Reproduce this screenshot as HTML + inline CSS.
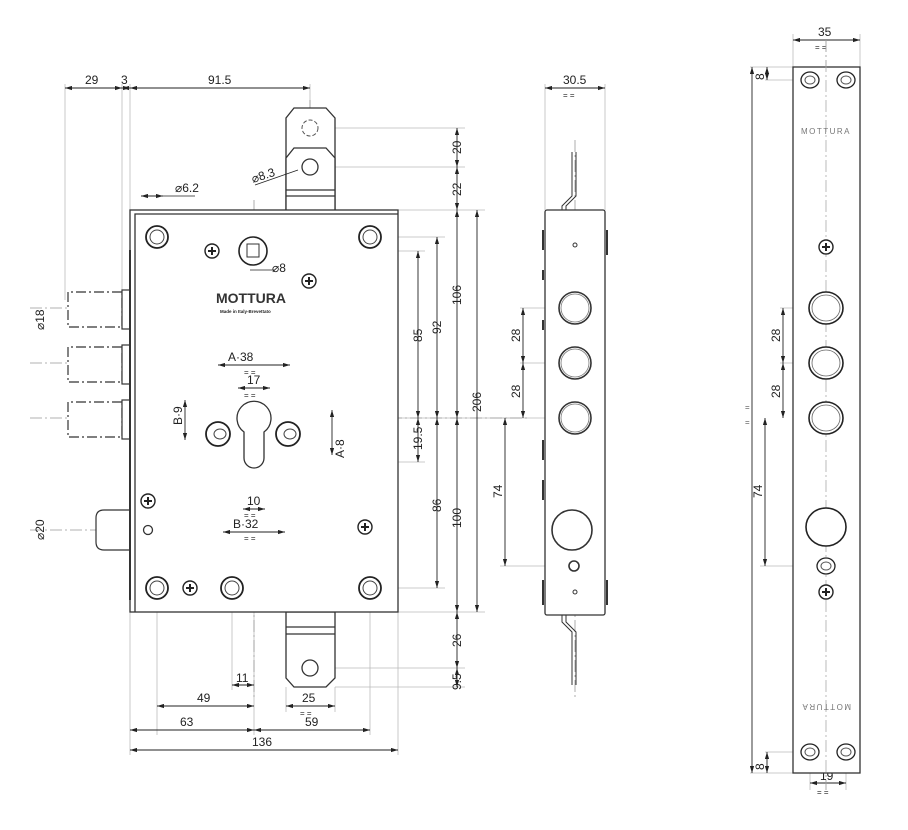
<!DOCTYPE html>
<html><head><meta charset="utf-8"><style>
html,body{margin:0;padding:0;background:#fff}
svg{display:block}
text{font-family:"Liberation Sans",sans-serif;fill:#222}
</style></head><body>
<svg width="908" height="830" viewBox="0 0 908 830" xmlns="http://www.w3.org/2000/svg">
<defs>
<marker id="a" viewBox="0 0 10 6" refX="10" refY="3" markerWidth="8" markerHeight="5" orient="auto-start-reverse"><path d="M0,0L10,3L0,6z" fill="#222"/></marker>
<g id="scr"><circle r="11" fill="#fff" stroke="#222" stroke-width="1.8"/><circle r="7" fill="none" stroke="#444" stroke-width="1"/></g>
<g id="crs"><circle r="7" fill="#fff" stroke="#222" stroke-width="1.4"/><path d="M-4,0H4M0,-4V4" stroke="#222" stroke-width="2"/></g>
<g id="fscr"><ellipse rx="9" ry="8" fill="#fff" stroke="#222" stroke-width="1.3"/><ellipse rx="5" ry="4" fill="none" stroke="#555"/></g>
</defs>
<g fill="none" stroke="#bbb" stroke-width="0.8">
<path d="M65,84V300M122,84V290M130,84V210M310,84V108"/>
<path d="M335,128H465M335,167H465M398,210H485M380,237H445M398,251H425M340,418H520M265,462H425M398,588H445M398,612H485M335,668H465M335,687H465"/>
<path d="M130,612V755M398,612V755M157,600V735M232,600V690M370,600V735M286,687V712M335,687V712M254,600V735"/>
<path d="M545,84V210M605,84V210M520,308H560M520,363H560M500,418H560M500,566H570"/>
<path d="M793,34V67M860,34V67M750,67H793M765,80H800M765,752H800M750,773H793M780,308H815M780,363H815M760,566H815M810,760V790M846,760V790"/>
<path d="M218,360V440M290,360V440M238,384V420M270,384V420M243,465V515M265,465V515M223,440V536M285,440V536M180,400H210M180,440H205M320,410H345M300,455H345"/>
</g>
<g fill="none" stroke="#999" stroke-width="0.8" stroke-dasharray="12,3,2,3">
<path d="M254,200V700M30,418H530M30,308H150M30,363H150M30,530H160M575,140V700M826,40V790M310,100V150M140,237H400"/>
</g>
<g fill="#fff" stroke="#333" stroke-width="1.2">
<path d="M122,292H68V327H122Z" stroke-dasharray="10,3,2,3"/>
<path d="M122,347H68V382H122Z" stroke-dasharray="10,3,2,3"/>
<path d="M122,402H68V437H122Z" stroke-dasharray="10,3,2,3"/>
<rect x="122" y="290" width="8" height="39"/><rect x="122" y="345" width="8" height="39"/><rect x="122" y="400" width="8" height="39"/>
<path d="M130,510H104Q96,510 96,518V542Q96,550 104,550H130Z"/>
</g>
<g fill="#fff" stroke="#333" stroke-width="1.3">
<path d="M286,212V118L294,108H326L335,118V212"/>
<path d="M286,212V158L294,148H326L335,158V212Z"/>
<path d="M286,190H335M286,196H335"/>
<path d="M286,612V678L294,687H326L335,678V612Z"/>
<path d="M286,627H335M286,634H335"/>
</g>
<circle cx="310" cy="128" r="8" fill="none" stroke="#555" stroke-dasharray="4,2"/>
<circle cx="310" cy="167" r="8" fill="#fff" stroke="#333" stroke-width="1.3"/>
<circle cx="310" cy="668" r="8" fill="#fff" stroke="#333" stroke-width="1.3"/>
<rect x="130" y="210" width="268" height="402" fill="#fff" stroke="#333" stroke-width="1.3"/>
<path d="M135,612V214H398" fill="none" stroke="#333" stroke-width="1.3"/>
<path d="M130,250V600" stroke="#333" stroke-width="2"/>
<use href="#scr" x="157" y="237"/><use href="#scr" x="370" y="237"/><use href="#scr" x="157" y="588"/><use href="#scr" x="232" y="588"/><use href="#scr" x="370" y="588"/>
<use href="#crs" x="212" y="251"/><use href="#crs" x="309" y="281"/><use href="#crs" x="148" y="501"/><use href="#crs" x="190" y="588"/><use href="#crs" x="365" y="527"/>
<circle cx="148" cy="530" r="4.5" fill="#fff" stroke="#333" stroke-width="1.3"/>
<circle cx="253" cy="251" r="14" fill="#fff" stroke="#222" stroke-width="1.6"/>
<rect x="247" y="244" width="12" height="13" fill="none" stroke="#333"/>
<text x="216" y="303" font-size="14" font-weight="bold" style="fill:#333">MOTTURA</text>
<text x="220" y="313" font-size="4.5" font-weight="bold">Made in Italy-Brevettato</text>
<path d="M244,432A17,17 0 1 1 264,432V458A10,10 0 0 1 244,458Z" fill="#fff" stroke="#333" stroke-width="1.3"/>
<circle cx="218" cy="434" r="12" fill="#fff" stroke="#222" stroke-width="1.8"/><ellipse cx="220" cy="434" rx="6" ry="5" fill="none" stroke="#444"/>
<circle cx="288" cy="434" r="12" fill="#fff" stroke="#222" stroke-width="1.8"/><ellipse cx="290" cy="434" rx="6" ry="5" fill="none" stroke="#444"/>
<g stroke="#222" stroke-width="0.9" fill="none" marker-start="url(#a)" marker-end="url(#a)">
<path d="M65,88H122"/><path d="M122,88H130"/><path d="M130,88H310"/>
<path d="M457,128V167"/><path d="M457,167V210"/><path d="M457,210V418"/><path d="M457,418V612"/><path d="M457,612V668"/><path d="M457,668V687"/>
<path d="M477,210V612"/><path d="M437,237V418"/><path d="M437,418V588"/><path d="M418,251V418"/><path d="M418,418V462"/>
<path d="M232,685H254"/><path d="M157,706H254"/><path d="M286,706H335"/><path d="M130,730H254"/><path d="M254,730H370"/><path d="M130,750H398"/>
<path d="M218,365H290"/><path d="M238,388H270"/><path d="M243,509H265"/><path d="M223,532H285"/>
<path d="M185,400V440"/><path d="M332,410V455"/>
<path d="M141,196H163"/>
<path d="M545,88H605"/><path d="M523,308V363"/><path d="M523,363V418"/><path d="M505,418V566"/>
<path d="M793,40H860"/><path d="M767,67V80"/><path d="M767,752V773"/><path d="M752,67V773"/><path d="M783,308V363"/><path d="M783,363V418"/><path d="M765,418V566"/><path d="M810,783H846"/>
</g>
<path d="M163,196H195M255,185L298,170" stroke="#222" stroke-width="0.8"/>
<path d="M250,270H275" stroke="#222" stroke-width="0.8"/>
<g font-size="12">
<text x="85" y="84">29</text><text x="121" y="84">3</text><text x="208" y="84">91.5</text>
<text x="228" y="361">A·38</text><text x="247" y="384">17</text><text x="247" y="505">10</text><text x="233" y="528">B·32</text>
<text x="236" y="682">11</text><text x="197" y="702">49</text><text x="302" y="702">25</text><text x="180" y="726">63</text><text x="305" y="726">59</text><text x="252" y="746">136</text>
<text x="175" y="192">⌀6.2</text>
<text x="272" y="272">⌀8</text>
<text x="253" y="183" transform="rotate(-18 253 183)">⌀8.3</text>
<text x="563" y="84">30.5</text><text x="818" y="36">35</text><text x="820" y="780">19</text>
</g>
<g font-size="12">
<text transform="translate(461,154) rotate(-90)">20</text>
<text transform="translate(461,196) rotate(-90)">22</text>
<text transform="translate(461,305) rotate(-90)">106</text>
<text transform="translate(461,528) rotate(-90)">100</text>
<text transform="translate(481,412) rotate(-90)">206</text>
<text transform="translate(441,334) rotate(-90)">92</text>
<text transform="translate(441,512) rotate(-90)">86</text>
<text transform="translate(422,342) rotate(-90)">85</text>
<text transform="translate(422,450) rotate(-90)">19.5</text>
<text transform="translate(461,647) rotate(-90)">26</text>
<text transform="translate(461,690) rotate(-90)">9.5</text>
<text transform="translate(182,425) rotate(-90)">B·9</text>
<text transform="translate(344,458) rotate(-90)">A·8</text>
<text transform="translate(44,330) rotate(-90)">⌀18</text>
<text transform="translate(44,540) rotate(-90)">⌀20</text>
<text transform="translate(520,342) rotate(-90)">28</text>
<text transform="translate(520,398) rotate(-90)">28</text>
<text transform="translate(502,498) rotate(-90)">74</text>
<text transform="translate(780,342) rotate(-90)">28</text>
<text transform="translate(780,398) rotate(-90)">28</text>
<text transform="translate(762,498) rotate(-90)">74</text>
<text transform="translate(764,80) rotate(-90)">8</text>
<text transform="translate(764,770) rotate(-90)">8</text>
</g>
<g font-size="8" style="fill:#555"><text x="244" y="375">= =</text><text x="244" y="398">= =</text><text x="244" y="518">= =</text><text x="244" y="541">= =</text><text x="300" y="716">= =</text><text x="563" y="98">= =</text><text x="815" y="50">= =</text><text x="817" y="795">= =</text></g>
<path d="M572,152V196L562,206V212M576,152V196L566,206V212" fill="none" stroke="#333" stroke-width="1"/>
<path d="M562,615V622L572,632V685M566,615V622L576,632V685" fill="none" stroke="#333" stroke-width="1"/>
<rect x="545" y="210" width="60" height="405" rx="2" fill="#fff" stroke="#333" stroke-width="1.3"/>
<path d="M543,230V250M543,270V280M543,320V330M543,440V460M543,480V500M543,580V605M607,230V255M607,580V605" stroke="#333" stroke-width="2"/>
<g fill="#fff" stroke="#333" stroke-width="1.6">
<circle cx="575" cy="308" r="16"/><circle cx="575" cy="363" r="16"/><circle cx="575" cy="418" r="16"/>
<circle cx="572" cy="530" r="20"/><circle cx="574" cy="566" r="5"/>
</g>
<g fill="none" stroke="#777" stroke-width="0.8"><circle cx="575" cy="308" r="14"/><circle cx="575" cy="363" r="14"/><circle cx="575" cy="418" r="14"/></g>
<circle cx="575" cy="245" r="2" fill="none" stroke="#333"/><circle cx="575" cy="592" r="2" fill="none" stroke="#333"/>
<rect x="793" y="67" width="67" height="706" fill="#fff" stroke="#333" stroke-width="1.3"/>
<path d="M826,40V790" stroke="#aaa" stroke-width="0.8" stroke-dasharray="12,3,2,3"/>
<use href="#fscr" x="810" y="80"/><use href="#fscr" x="846" y="80"/><use href="#fscr" x="810" y="752"/><use href="#fscr" x="846" y="752"/>
<text x="826" y="134" font-size="8" text-anchor="middle" letter-spacing="1.5" style="fill:#777">MOTTURA</text>
<text x="826" y="704" font-size="8" text-anchor="middle" letter-spacing="1.5" style="fill:#777" transform="rotate(180 826 704)">MOTTURA</text>
<use href="#crs" x="826" y="247"/><use href="#crs" x="826" y="592"/>
<g fill="#fff" stroke="#222" stroke-width="1.6"><ellipse cx="826" cy="308" rx="17" ry="16"/><ellipse cx="826" cy="363" rx="17" ry="16"/><ellipse cx="826" cy="418" rx="17" ry="16"/><ellipse cx="826" cy="527" rx="20" ry="19"/></g>
<g fill="none" stroke="#666" stroke-width="0.8"><ellipse cx="826" cy="308" rx="14" ry="13"/><ellipse cx="826" cy="363" rx="14" ry="13"/><ellipse cx="826" cy="418" rx="14" ry="13"/></g>
<use href="#fscr" x="826" y="566"/>
<text x="745" y="410" font-size="8" style="fill:#555">=</text><text x="745" y="425" font-size="8" style="fill:#555">=</text>
</svg>
</body></html>
